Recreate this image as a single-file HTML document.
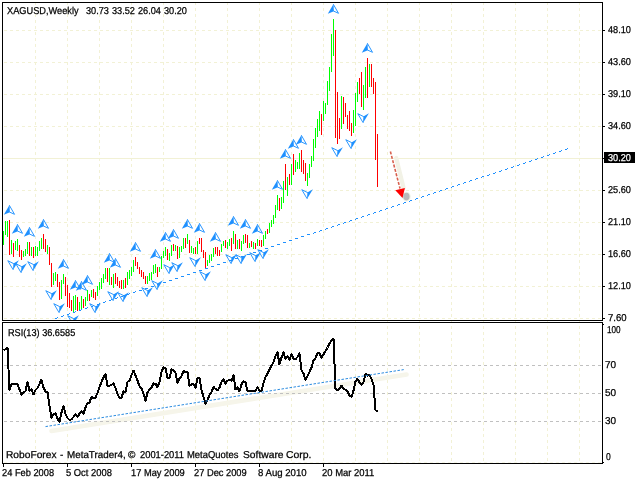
<!DOCTYPE html><html><head><meta charset="utf-8"><title>XAGUSD,Weekly</title><style>html,body{margin:0;padding:0;background:#fff;width:640px;height:480px;overflow:hidden}svg{display:block}text{font-family:'Liberation Sans', Arial, sans-serif;font-size:10.0px;fill:#000;stroke:#000;stroke-width:0.25px;text-rendering:geometricPrecision}</style></head><body>
<svg width="640" height="480" viewBox="0 0 640 480">
<rect width="640" height="480" fill="#fff"/>
<defs><clipPath id="cm"><rect x="3" y="3" width="599" height="317"/></clipPath><clipPath id="cr"><rect x="3" y="323" width="599" height="140"/></clipPath></defs>
<g shape-rendering="crispEdges" fill="none"><line x1="35.5" y1="2" x2="35.5" y2="320" stroke="#F2F1D5" stroke-dasharray="3 3"/><line x1="35.5" y1="320" x2="35.5" y2="463" stroke="#F2F1D5" stroke-dasharray="3 3"/><line x1="67.5" y1="2" x2="67.5" y2="320" stroke="#F2F1D5" stroke-dasharray="3 3"/><line x1="67.5" y1="320" x2="67.5" y2="463" stroke="#F2F1D5" stroke-dasharray="3 3"/><line x1="99.5" y1="2" x2="99.5" y2="320" stroke="#F2F1D5" stroke-dasharray="3 3"/><line x1="99.5" y1="320" x2="99.5" y2="463" stroke="#F2F1D5" stroke-dasharray="3 3"/><line x1="131.5" y1="2" x2="131.5" y2="320" stroke="#F2F1D5" stroke-dasharray="3 3"/><line x1="131.5" y1="320" x2="131.5" y2="463" stroke="#F2F1D5" stroke-dasharray="3 3"/><line x1="163.5" y1="2" x2="163.5" y2="320" stroke="#F2F1D5" stroke-dasharray="3 3"/><line x1="163.5" y1="320" x2="163.5" y2="463" stroke="#F2F1D5" stroke-dasharray="3 3"/><line x1="195.5" y1="2" x2="195.5" y2="320" stroke="#F2F1D5" stroke-dasharray="3 3"/><line x1="195.5" y1="320" x2="195.5" y2="463" stroke="#F2F1D5" stroke-dasharray="3 3"/><line x1="227.5" y1="2" x2="227.5" y2="320" stroke="#F2F1D5" stroke-dasharray="3 3"/><line x1="227.5" y1="320" x2="227.5" y2="463" stroke="#F2F1D5" stroke-dasharray="3 3"/><line x1="259.5" y1="2" x2="259.5" y2="320" stroke="#F2F1D5" stroke-dasharray="3 3"/><line x1="259.5" y1="320" x2="259.5" y2="463" stroke="#F2F1D5" stroke-dasharray="3 3"/><line x1="291.5" y1="2" x2="291.5" y2="320" stroke="#F2F1D5" stroke-dasharray="3 3"/><line x1="291.5" y1="320" x2="291.5" y2="463" stroke="#F2F1D5" stroke-dasharray="3 3"/><line x1="323.5" y1="2" x2="323.5" y2="320" stroke="#F2F1D5" stroke-dasharray="3 3"/><line x1="323.5" y1="320" x2="323.5" y2="463" stroke="#F2F1D5" stroke-dasharray="3 3"/><line x1="355.5" y1="2" x2="355.5" y2="320" stroke="#F2F1D5" stroke-dasharray="3 3"/><line x1="355.5" y1="320" x2="355.5" y2="463" stroke="#F2F1D5" stroke-dasharray="3 3"/><line x1="387.5" y1="2" x2="387.5" y2="320" stroke="#F2F1D5" stroke-dasharray="3 3"/><line x1="387.5" y1="320" x2="387.5" y2="463" stroke="#F2F1D5" stroke-dasharray="3 3"/><line x1="419.5" y1="2" x2="419.5" y2="320" stroke="#F2F1D5" stroke-dasharray="3 3"/><line x1="419.5" y1="320" x2="419.5" y2="463" stroke="#F2F1D5" stroke-dasharray="3 3"/><line x1="451.5" y1="2" x2="451.5" y2="320" stroke="#F2F1D5" stroke-dasharray="3 3"/><line x1="451.5" y1="320" x2="451.5" y2="463" stroke="#F2F1D5" stroke-dasharray="3 3"/><line x1="483.5" y1="2" x2="483.5" y2="320" stroke="#F2F1D5" stroke-dasharray="3 3"/><line x1="483.5" y1="320" x2="483.5" y2="463" stroke="#F2F1D5" stroke-dasharray="3 3"/><line x1="515.5" y1="2" x2="515.5" y2="320" stroke="#F2F1D5" stroke-dasharray="3 3"/><line x1="515.5" y1="320" x2="515.5" y2="463" stroke="#F2F1D5" stroke-dasharray="3 3"/><line x1="547.5" y1="2" x2="547.5" y2="320" stroke="#F2F1D5" stroke-dasharray="3 3"/><line x1="547.5" y1="320" x2="547.5" y2="463" stroke="#F2F1D5" stroke-dasharray="3 3"/><line x1="579.5" y1="2" x2="579.5" y2="320" stroke="#F2F1D5" stroke-dasharray="3 3"/><line x1="579.5" y1="320" x2="579.5" y2="463" stroke="#F2F1D5" stroke-dasharray="3 3"/><line x1="4" y1="30.5" x2="602" y2="30.5" stroke="#F2F1D5" stroke-dasharray="3 3"/><line x1="4" y1="62.5" x2="602" y2="62.5" stroke="#F2F1D5" stroke-dasharray="3 3"/><line x1="4" y1="94.5" x2="602" y2="94.5" stroke="#F2F1D5" stroke-dasharray="3 3"/><line x1="4" y1="126.5" x2="602" y2="126.5" stroke="#F2F1D5" stroke-dasharray="3 3"/><line x1="4" y1="158.5" x2="602" y2="158.5" stroke="#F2F1D5" stroke-dasharray="3 3"/><line x1="4" y1="190.5" x2="602" y2="190.5" stroke="#F2F1D5" stroke-dasharray="3 3"/><line x1="4" y1="222.5" x2="602" y2="222.5" stroke="#F2F1D5" stroke-dasharray="3 3"/><line x1="4" y1="254.5" x2="602" y2="254.5" stroke="#F2F1D5" stroke-dasharray="3 3"/><line x1="4" y1="286.5" x2="602" y2="286.5" stroke="#F2F1D5" stroke-dasharray="3 3"/><line x1="4" y1="318.5" x2="602" y2="318.5" stroke="#F2F1D5" stroke-dasharray="3 3"/><line x1="4" y1="462.5" x2="602" y2="462.5" stroke="#F2F1D5" stroke-dasharray="3 3" opacity="0.6"/><line x1="3" y1="158.5" x2="602" y2="158.5" stroke="#F2F1D5"/></g>
<line x1="51.5" y1="430.95" x2="406.5" y2="374.46" stroke="#F6F5EA" stroke-width="4.6" stroke-linecap="round"/>
<g shape-rendering="crispEdges" fill="none"><line x1="4" y1="365.5" x2="602" y2="365.5" stroke="#C0C0C0" stroke-dasharray="3 3"/><line x1="4" y1="393.5" x2="602" y2="393.5" stroke="#C0C0C0" stroke-dasharray="3 3"/><line x1="4" y1="421.5" x2="602" y2="421.5" stroke="#C0C0C0" stroke-dasharray="3 3"/></g>
<g clip-path="url(#cm)">
<line x1="396.2" y1="158" x2="403.6" y2="188" stroke="#F2F2E6" stroke-width="4.2" stroke-linecap="round"/>
<ellipse cx="406.4" cy="196.6" rx="4.3" ry="4.9" fill="#EEF3E6"/>
<ellipse cx="406.4" cy="196.6" rx="3.2" ry="3.8" fill="#B9B9B9"/>
<line x1="390.4" y1="151.5" x2="400" y2="188.5" stroke="#D8604E" stroke-width="1.6" stroke-dasharray="3 1.5"/>
<polygon points="395.3,190.3 404.9,188 402.5,197.9" fill="#FF0000"/>
<g shape-rendering="crispEdges"><rect x="3" y="231" width="1" height="14" fill="#00FF00"/><rect x="5" y="221" width="1" height="14" fill="#00FF00"/><rect x="7" y="221" width="1" height="16" fill="#00FF00"/><rect x="9" y="220" width="1" height="35" fill="#FF0000"/><rect x="11" y="240" width="1" height="14" fill="#00FF00"/><rect x="13" y="243" width="1" height="14" fill="#FF0000"/><rect x="15" y="241" width="1" height="9" fill="#00FF00"/><rect x="17" y="239" width="1" height="12" fill="#00FF00"/><rect x="19" y="245" width="1" height="12" fill="#FF0000"/><rect x="21" y="250" width="1" height="10" fill="#FF0000"/><rect x="23" y="251" width="1" height="6" fill="#00FF00"/><rect x="25" y="249" width="1" height="7" fill="#00FF00"/><rect x="27" y="242" width="1" height="12" fill="#00FF00"/><rect x="29" y="242" width="1" height="14" fill="#FF0000"/><rect x="31" y="247" width="1" height="9" fill="#00FF00"/><rect x="33" y="247" width="1" height="11" fill="#FF0000"/><rect x="35" y="246" width="1" height="10" fill="#00FF00"/><rect x="37" y="247" width="1" height="9" fill="#00FF00"/><rect x="39" y="241" width="1" height="10" fill="#00FF00"/><rect x="41" y="238" width="1" height="11" fill="#00FF00"/><rect x="43" y="234" width="1" height="15" fill="#FF0000"/><rect x="45" y="239" width="1" height="13" fill="#FF0000"/><rect x="47" y="245" width="1" height="9" fill="#00FF00"/><rect x="49" y="247" width="1" height="18" fill="#FF0000"/><rect x="51" y="263" width="1" height="24" fill="#FF0000"/><rect x="53" y="273" width="1" height="12" fill="#00FF00"/><rect x="55" y="272" width="1" height="9" fill="#00FF00"/><rect x="57" y="274" width="1" height="13" fill="#FF0000"/><rect x="59" y="282" width="1" height="18" fill="#FF0000"/><rect x="61" y="280" width="1" height="19" fill="#00FF00"/><rect x="63" y="274" width="1" height="10" fill="#00FF00"/><rect x="65" y="277" width="1" height="19" fill="#FF0000"/><rect x="67" y="285" width="1" height="22" fill="#FF0000"/><rect x="69" y="293" width="1" height="15" fill="#FF0000"/><rect x="71" y="300" width="1" height="11" fill="#FF0000"/><rect x="73" y="296" width="1" height="16" fill="#00FF00"/><rect x="75" y="295" width="1" height="15" fill="#00FF00"/><rect x="77" y="297" width="1" height="14" fill="#FF0000"/><rect x="79" y="302" width="1" height="8" fill="#00FF00"/><rect x="81" y="296" width="1" height="14" fill="#00FF00"/><rect x="83" y="299" width="1" height="9" fill="#FF0000"/><rect x="85" y="297" width="1" height="9" fill="#00FF00"/><rect x="87" y="290" width="1" height="11" fill="#00FF00"/><rect x="89" y="294" width="1" height="7" fill="#FF0000"/><rect x="91" y="290" width="1" height="7" fill="#00FF00"/><rect x="93" y="289" width="1" height="9" fill="#FF0000"/><rect x="95" y="292" width="1" height="8" fill="#FF0000"/><rect x="97" y="286" width="1" height="10" fill="#00FF00"/><rect x="99" y="282" width="1" height="8" fill="#00FF00"/><rect x="101" y="278" width="1" height="11" fill="#00FF00"/><rect x="103" y="274" width="1" height="9" fill="#00FF00"/><rect x="105" y="268" width="1" height="11" fill="#00FF00"/><rect x="107" y="268" width="1" height="14" fill="#FF0000"/><rect x="109" y="268" width="1" height="17" fill="#00FF00"/><rect x="111" y="277" width="1" height="8" fill="#FF0000"/><rect x="113" y="274" width="1" height="14" fill="#00FF00"/><rect x="115" y="273" width="1" height="11" fill="#FF0000"/><rect x="117" y="277" width="1" height="9" fill="#FF0000"/><rect x="119" y="281" width="1" height="7" fill="#FF0000"/><rect x="121" y="280" width="1" height="9" fill="#FF0000"/><rect x="123" y="280" width="1" height="9" fill="#00FF00"/><rect x="125" y="278" width="1" height="10" fill="#FF0000"/><rect x="127" y="272" width="1" height="13" fill="#00FF00"/><rect x="129" y="270" width="1" height="9" fill="#00FF00"/><rect x="131" y="267" width="1" height="9" fill="#00FF00"/><rect x="133" y="260" width="1" height="12" fill="#00FF00"/><rect x="135" y="257" width="1" height="9" fill="#FF0000"/><rect x="137" y="262" width="1" height="7" fill="#FF0000"/><rect x="139" y="267" width="1" height="7" fill="#FF0000"/><rect x="141" y="270" width="1" height="7" fill="#FF0000"/><rect x="143" y="272" width="1" height="7" fill="#FF0000"/><rect x="145" y="276" width="1" height="8" fill="#FF0000"/><rect x="147" y="276" width="1" height="8" fill="#00FF00"/><rect x="149" y="273" width="1" height="8" fill="#00FF00"/><rect x="151" y="272" width="1" height="8" fill="#00FF00"/><rect x="153" y="265" width="1" height="9" fill="#00FF00"/><rect x="155" y="264" width="1" height="9" fill="#00FF00"/><rect x="157" y="267" width="1" height="10" fill="#FF0000"/><rect x="159" y="267" width="1" height="5" fill="#00FF00"/><rect x="161" y="256" width="1" height="13" fill="#00FF00"/><rect x="163" y="251" width="1" height="7" fill="#00FF00"/><rect x="165" y="247" width="1" height="9" fill="#00FF00"/><rect x="167" y="249" width="1" height="11" fill="#FF0000"/><rect x="169" y="253" width="1" height="8" fill="#00FF00"/><rect x="171" y="245" width="1" height="11" fill="#00FF00"/><rect x="173" y="244" width="1" height="7" fill="#FF0000"/><rect x="175" y="245" width="1" height="6" fill="#00FF00"/><rect x="177" y="246" width="1" height="13" fill="#FF0000"/><rect x="179" y="247" width="1" height="11" fill="#00FF00"/><rect x="181" y="246" width="1" height="6" fill="#00FF00"/><rect x="183" y="238" width="1" height="11" fill="#00FF00"/><rect x="185" y="238" width="1" height="10" fill="#FF0000"/><rect x="187" y="234" width="1" height="10" fill="#00FF00"/><rect x="189" y="240" width="1" height="13" fill="#FF0000"/><rect x="191" y="246" width="1" height="7" fill="#00FF00"/><rect x="193" y="248" width="1" height="6" fill="#00FF00"/><rect x="195" y="247" width="1" height="7" fill="#FF0000"/><rect x="197" y="241" width="1" height="13" fill="#00FF00"/><rect x="199" y="238" width="1" height="6" fill="#FF0000"/><rect x="201" y="238" width="1" height="14" fill="#FF0000"/><rect x="203" y="250" width="1" height="8" fill="#FF0000"/><rect x="205" y="252" width="1" height="16" fill="#FF0000"/><rect x="207" y="260" width="1" height="6" fill="#00FF00"/><rect x="209" y="255" width="1" height="8" fill="#00FF00"/><rect x="211" y="254" width="1" height="7" fill="#00FF00"/><rect x="213" y="248" width="1" height="9" fill="#00FF00"/><rect x="215" y="247" width="1" height="7" fill="#FF0000"/><rect x="217" y="247" width="1" height="9" fill="#FF0000"/><rect x="219" y="250" width="1" height="6" fill="#FF0000"/><rect x="221" y="244" width="1" height="8" fill="#00FF00"/><rect x="223" y="241" width="1" height="5" fill="#00FF00"/><rect x="225" y="240" width="1" height="8" fill="#FF0000"/><rect x="227" y="242" width="1" height="7" fill="#00FF00"/><rect x="229" y="239" width="1" height="7" fill="#00FF00"/><rect x="231" y="238" width="1" height="13" fill="#FF0000"/><rect x="233" y="231" width="1" height="13" fill="#00FF00"/><rect x="235" y="234" width="1" height="15" fill="#FF0000"/><rect x="237" y="240" width="1" height="9" fill="#00FF00"/><rect x="239" y="239" width="1" height="10" fill="#FF0000"/><rect x="241" y="241" width="1" height="10" fill="#00FF00"/><rect x="243" y="235" width="1" height="9" fill="#00FF00"/><rect x="245" y="234" width="1" height="9" fill="#FF0000"/><rect x="247" y="235" width="1" height="13" fill="#FF0000"/><rect x="249" y="243" width="1" height="5" fill="#00FF00"/><rect x="251" y="241" width="1" height="6" fill="#FF0000"/><rect x="253" y="242" width="1" height="7" fill="#00FF00"/><rect x="255" y="243" width="1" height="6" fill="#FF0000"/><rect x="257" y="239" width="1" height="7" fill="#00FF00"/><rect x="259" y="240" width="1" height="6" fill="#FF0000"/><rect x="261" y="240" width="1" height="7" fill="#FF0000"/><rect x="263" y="235" width="1" height="11" fill="#00FF00"/><rect x="265" y="231" width="1" height="8" fill="#00FF00"/><rect x="267" y="229" width="1" height="5" fill="#FF0000"/><rect x="269" y="223" width="1" height="10" fill="#00FF00"/><rect x="271" y="220" width="1" height="7" fill="#00FF00"/><rect x="273" y="215" width="1" height="9" fill="#00FF00"/><rect x="275" y="205" width="1" height="13" fill="#00FF00"/><rect x="277" y="195" width="1" height="15" fill="#00FF00"/><rect x="279" y="198" width="1" height="13" fill="#FF0000"/><rect x="281" y="197" width="1" height="12" fill="#00FF00"/><rect x="283" y="181" width="1" height="22" fill="#00FF00"/><rect x="285" y="164" width="1" height="26" fill="#FF0000"/><rect x="287" y="177" width="1" height="19" fill="#00FF00"/><rect x="289" y="174" width="1" height="11" fill="#FF0000"/><rect x="291" y="164" width="1" height="21" fill="#00FF00"/><rect x="293" y="154" width="1" height="21" fill="#FF0000"/><rect x="295" y="160" width="1" height="12" fill="#00FF00"/><rect x="297" y="162" width="1" height="7" fill="#00FF00"/><rect x="299" y="153" width="1" height="16" fill="#00FF00"/><rect x="301" y="150" width="1" height="22" fill="#FF0000"/><rect x="303" y="160" width="1" height="14" fill="#FF0000"/><rect x="305" y="163" width="1" height="18" fill="#FF0000"/><rect x="307" y="173" width="1" height="13" fill="#00FF00"/><rect x="309" y="164" width="1" height="14" fill="#00FF00"/><rect x="311" y="156" width="1" height="11" fill="#00FF00"/><rect x="313" y="139" width="1" height="22" fill="#00FF00"/><rect x="315" y="128" width="1" height="20" fill="#00FF00"/><rect x="317" y="119" width="1" height="18" fill="#00FF00"/><rect x="319" y="111" width="1" height="20" fill="#00FF00"/><rect x="321" y="114" width="1" height="21" fill="#FF0000"/><rect x="323" y="101" width="1" height="20" fill="#00FF00"/><rect x="325" y="103" width="1" height="11" fill="#00FF00"/><rect x="327" y="81" width="1" height="24" fill="#00FF00"/><rect x="329" y="67" width="1" height="24" fill="#00FF00"/><rect x="331" y="34" width="1" height="38" fill="#00FF00"/><rect x="333" y="19" width="1" height="37" fill="#00FF00"/><rect x="335" y="30" width="1" height="108" fill="#FF0000"/><rect x="337" y="92" width="1" height="52" fill="#FF0000"/><rect x="339" y="118" width="1" height="21" fill="#FF0000"/><rect x="341" y="96" width="1" height="33" fill="#00FF00"/><rect x="343" y="97" width="1" height="27" fill="#FF0000"/><rect x="345" y="103" width="1" height="14" fill="#FF0000"/><rect x="347" y="115" width="1" height="14" fill="#FF0000"/><rect x="349" y="111" width="1" height="20" fill="#FF0000"/><rect x="351" y="123" width="1" height="13" fill="#FF0000"/><rect x="353" y="110" width="1" height="23" fill="#00FF00"/><rect x="355" y="93" width="1" height="33" fill="#00FF00"/><rect x="357" y="82" width="1" height="20" fill="#00FF00"/><rect x="359" y="78" width="1" height="16" fill="#FF0000"/><rect x="361" y="72" width="1" height="35" fill="#FF0000"/><rect x="363" y="85" width="1" height="25" fill="#00FF00"/><rect x="365" y="67" width="1" height="31" fill="#00FF00"/><rect x="367" y="58" width="1" height="40" fill="#FF0000"/><rect x="369" y="64" width="1" height="23" fill="#00FF00"/><rect x="371" y="64" width="1" height="23" fill="#FF0000"/><rect x="373" y="78" width="1" height="16" fill="#FF0000"/><rect x="375" y="82" width="1" height="78" fill="#FF0000"/><rect x="377" y="134" width="1" height="53" fill="#FF0000"/></g>
<g><polygon points="9.50,205.10 3.80,214.70 9.90,212.20" fill="#1E90FF"/><polyline points="9.50,205.60 14.50,214.30 9.90,212.20" fill="none" stroke="#1E90FF" stroke-width="0.95" stroke-linejoin="round" stroke-linecap="round"/><polygon points="17.50,224.10 11.80,233.70 17.90,231.20" fill="#1E90FF"/><polyline points="17.50,224.60 22.50,233.30 17.90,231.20" fill="none" stroke="#1E90FF" stroke-width="0.95" stroke-linejoin="round" stroke-linecap="round"/><polygon points="29.50,227.10 23.80,236.70 29.90,234.20" fill="#1E90FF"/><polyline points="29.50,227.60 34.50,236.30 29.90,234.20" fill="none" stroke="#1E90FF" stroke-width="0.95" stroke-linejoin="round" stroke-linecap="round"/><polygon points="43.50,219.10 37.80,228.70 43.90,226.20" fill="#1E90FF"/><polyline points="43.50,219.60 48.50,228.30 43.90,226.20" fill="none" stroke="#1E90FF" stroke-width="0.95" stroke-linejoin="round" stroke-linecap="round"/><polygon points="63.50,259.10 57.80,268.70 63.90,266.20" fill="#1E90FF"/><polyline points="63.50,259.60 68.50,268.30 63.90,266.20" fill="none" stroke="#1E90FF" stroke-width="0.95" stroke-linejoin="round" stroke-linecap="round"/><polygon points="75.50,280.10 69.80,289.70 75.90,287.20" fill="#1E90FF"/><polyline points="75.50,280.60 80.50,289.30 75.90,287.20" fill="none" stroke="#1E90FF" stroke-width="0.95" stroke-linejoin="round" stroke-linecap="round"/><polygon points="81.50,281.10 75.80,290.70 81.90,288.20" fill="#1E90FF"/><polyline points="81.50,281.60 86.50,290.30 81.90,288.20" fill="none" stroke="#1E90FF" stroke-width="0.95" stroke-linejoin="round" stroke-linecap="round"/><polygon points="87.50,275.10 81.80,284.70 87.90,282.20" fill="#1E90FF"/><polyline points="87.50,275.60 92.50,284.30 87.90,282.20" fill="none" stroke="#1E90FF" stroke-width="0.95" stroke-linejoin="round" stroke-linecap="round"/><polygon points="109.50,253.10 103.80,262.70 109.90,260.20" fill="#1E90FF"/><polyline points="109.50,253.60 114.50,262.30 109.90,260.20" fill="none" stroke="#1E90FF" stroke-width="0.95" stroke-linejoin="round" stroke-linecap="round"/><polygon points="115.50,258.10 109.80,267.70 115.90,265.20" fill="#1E90FF"/><polyline points="115.50,258.60 120.50,267.30 115.90,265.20" fill="none" stroke="#1E90FF" stroke-width="0.95" stroke-linejoin="round" stroke-linecap="round"/><polygon points="135.50,242.10 129.80,251.70 135.90,249.20" fill="#1E90FF"/><polyline points="135.50,242.60 140.50,251.30 135.90,249.20" fill="none" stroke="#1E90FF" stroke-width="0.95" stroke-linejoin="round" stroke-linecap="round"/><polygon points="155.50,249.10 149.80,258.70 155.90,256.20" fill="#1E90FF"/><polyline points="155.50,249.60 160.50,258.30 155.90,256.20" fill="none" stroke="#1E90FF" stroke-width="0.95" stroke-linejoin="round" stroke-linecap="round"/><polygon points="165.50,232.10 159.80,241.70 165.90,239.20" fill="#1E90FF"/><polyline points="165.50,232.60 170.50,241.30 165.90,239.20" fill="none" stroke="#1E90FF" stroke-width="0.95" stroke-linejoin="round" stroke-linecap="round"/><polygon points="173.50,229.10 167.80,238.70 173.90,236.20" fill="#1E90FF"/><polyline points="173.50,229.60 178.50,238.30 173.90,236.20" fill="none" stroke="#1E90FF" stroke-width="0.95" stroke-linejoin="round" stroke-linecap="round"/><polygon points="187.50,219.10 181.80,228.70 187.90,226.20" fill="#1E90FF"/><polyline points="187.50,219.60 192.50,228.30 187.90,226.20" fill="none" stroke="#1E90FF" stroke-width="0.95" stroke-linejoin="round" stroke-linecap="round"/><polygon points="199.50,223.10 193.80,232.70 199.90,230.20" fill="#1E90FF"/><polyline points="199.50,223.60 204.50,232.30 199.90,230.20" fill="none" stroke="#1E90FF" stroke-width="0.95" stroke-linejoin="round" stroke-linecap="round"/><polygon points="215.50,232.10 209.80,241.70 215.90,239.20" fill="#1E90FF"/><polyline points="215.50,232.60 220.50,241.30 215.90,239.20" fill="none" stroke="#1E90FF" stroke-width="0.95" stroke-linejoin="round" stroke-linecap="round"/><polygon points="233.50,216.10 227.80,225.70 233.90,223.20" fill="#1E90FF"/><polyline points="233.50,216.60 238.50,225.30 233.90,223.20" fill="none" stroke="#1E90FF" stroke-width="0.95" stroke-linejoin="round" stroke-linecap="round"/><polygon points="245.50,219.10 239.80,228.70 245.90,226.20" fill="#1E90FF"/><polyline points="245.50,219.60 250.50,228.30 245.90,226.20" fill="none" stroke="#1E90FF" stroke-width="0.95" stroke-linejoin="round" stroke-linecap="round"/><polygon points="257.50,224.10 251.80,233.70 257.90,231.20" fill="#1E90FF"/><polyline points="257.50,224.60 262.50,233.30 257.90,231.20" fill="none" stroke="#1E90FF" stroke-width="0.95" stroke-linejoin="round" stroke-linecap="round"/><polygon points="277.50,180.10 271.80,189.70 277.90,187.20" fill="#1E90FF"/><polyline points="277.50,180.60 282.50,189.30 277.90,187.20" fill="none" stroke="#1E90FF" stroke-width="0.95" stroke-linejoin="round" stroke-linecap="round"/><polygon points="285.50,149.10 279.80,158.70 285.90,156.20" fill="#1E90FF"/><polyline points="285.50,149.60 290.50,158.30 285.90,156.20" fill="none" stroke="#1E90FF" stroke-width="0.95" stroke-linejoin="round" stroke-linecap="round"/><polygon points="293.50,139.10 287.80,148.70 293.90,146.20" fill="#1E90FF"/><polyline points="293.50,139.60 298.50,148.30 293.90,146.20" fill="none" stroke="#1E90FF" stroke-width="0.95" stroke-linejoin="round" stroke-linecap="round"/><polygon points="301.50,135.10 295.80,144.70 301.90,142.20" fill="#1E90FF"/><polyline points="301.50,135.60 306.50,144.30 301.90,142.20" fill="none" stroke="#1E90FF" stroke-width="0.95" stroke-linejoin="round" stroke-linecap="round"/><polygon points="333.50,4.10 327.80,13.70 333.90,11.20" fill="#1E90FF"/><polyline points="333.50,4.60 338.50,13.30 333.90,11.20" fill="none" stroke="#1E90FF" stroke-width="0.95" stroke-linejoin="round" stroke-linecap="round"/><polygon points="367.50,43.10 361.80,52.70 367.90,50.20" fill="#1E90FF"/><polyline points="367.50,43.60 372.50,52.30 367.90,50.20" fill="none" stroke="#1E90FF" stroke-width="0.95" stroke-linejoin="round" stroke-linecap="round"/><polygon points="13.00,270.00 18.90,260.20 13.40,263.50" fill="#1E90FF"/><polyline points="13.00,269.50 7.80,260.70 13.40,263.50" fill="none" stroke="#1E90FF" stroke-width="0.95" stroke-linejoin="round" stroke-linecap="round"/><polygon points="21.00,273.00 26.90,263.20 21.40,266.50" fill="#1E90FF"/><polyline points="21.00,272.50 15.80,263.70 21.40,266.50" fill="none" stroke="#1E90FF" stroke-width="0.95" stroke-linejoin="round" stroke-linecap="round"/><polygon points="33.00,271.00 38.90,261.20 33.40,264.50" fill="#1E90FF"/><polyline points="33.00,270.50 27.80,261.70 33.40,264.50" fill="none" stroke="#1E90FF" stroke-width="0.95" stroke-linejoin="round" stroke-linecap="round"/><polygon points="51.00,300.00 56.90,290.20 51.40,293.50" fill="#1E90FF"/><polyline points="51.00,299.50 45.80,290.70 51.40,293.50" fill="none" stroke="#1E90FF" stroke-width="0.95" stroke-linejoin="round" stroke-linecap="round"/><polygon points="59.00,313.00 64.90,303.20 59.40,306.50" fill="#1E90FF"/><polyline points="59.00,312.50 53.80,303.70 59.40,306.50" fill="none" stroke="#1E90FF" stroke-width="0.95" stroke-linejoin="round" stroke-linecap="round"/><polygon points="73.00,325.00 78.90,315.20 73.40,318.50" fill="#1E90FF"/><polyline points="73.00,324.50 67.80,315.70 73.40,318.50" fill="none" stroke="#1E90FF" stroke-width="0.95" stroke-linejoin="round" stroke-linecap="round"/><polygon points="95.00,313.00 100.90,303.20 95.40,306.50" fill="#1E90FF"/><polyline points="95.00,312.50 89.80,303.70 95.40,306.50" fill="none" stroke="#1E90FF" stroke-width="0.95" stroke-linejoin="round" stroke-linecap="round"/><polygon points="113.00,301.00 118.90,291.20 113.40,294.50" fill="#1E90FF"/><polyline points="113.00,300.50 107.80,291.70 113.40,294.50" fill="none" stroke="#1E90FF" stroke-width="0.95" stroke-linejoin="round" stroke-linecap="round"/><polygon points="123.00,302.00 128.90,292.20 123.40,295.50" fill="#1E90FF"/><polyline points="123.00,301.50 117.80,292.70 123.40,295.50" fill="none" stroke="#1E90FF" stroke-width="0.95" stroke-linejoin="round" stroke-linecap="round"/><polygon points="147.00,297.00 152.90,287.20 147.40,290.50" fill="#1E90FF"/><polyline points="147.00,296.50 141.80,287.70 147.40,290.50" fill="none" stroke="#1E90FF" stroke-width="0.95" stroke-linejoin="round" stroke-linecap="round"/><polygon points="157.00,290.00 162.90,280.20 157.40,283.50" fill="#1E90FF"/><polyline points="157.00,289.50 151.80,280.70 157.40,283.50" fill="none" stroke="#1E90FF" stroke-width="0.95" stroke-linejoin="round" stroke-linecap="round"/><polygon points="169.00,274.00 174.90,264.20 169.40,267.50" fill="#1E90FF"/><polyline points="169.00,273.50 163.80,264.70 169.40,267.50" fill="none" stroke="#1E90FF" stroke-width="0.95" stroke-linejoin="round" stroke-linecap="round"/><polygon points="177.00,272.00 182.90,262.20 177.40,265.50" fill="#1E90FF"/><polyline points="177.00,271.50 171.80,262.70 177.40,265.50" fill="none" stroke="#1E90FF" stroke-width="0.95" stroke-linejoin="round" stroke-linecap="round"/><polygon points="195.00,267.00 200.90,257.20 195.40,260.50" fill="#1E90FF"/><polyline points="195.00,266.50 189.80,257.70 195.40,260.50" fill="none" stroke="#1E90FF" stroke-width="0.95" stroke-linejoin="round" stroke-linecap="round"/><polygon points="205.00,281.00 210.90,271.20 205.40,274.50" fill="#1E90FF"/><polyline points="205.00,280.50 199.80,271.70 205.40,274.50" fill="none" stroke="#1E90FF" stroke-width="0.95" stroke-linejoin="round" stroke-linecap="round"/><polygon points="231.00,264.00 236.90,254.20 231.40,257.50" fill="#1E90FF"/><polyline points="231.00,263.50 225.80,254.70 231.40,257.50" fill="none" stroke="#1E90FF" stroke-width="0.95" stroke-linejoin="round" stroke-linecap="round"/><polygon points="241.00,264.00 246.90,254.20 241.40,257.50" fill="#1E90FF"/><polyline points="241.00,263.50 235.80,254.70 241.40,257.50" fill="none" stroke="#1E90FF" stroke-width="0.95" stroke-linejoin="round" stroke-linecap="round"/><polygon points="255.00,262.00 260.90,252.20 255.40,255.50" fill="#1E90FF"/><polyline points="255.00,261.50 249.80,252.70 255.40,255.50" fill="none" stroke="#1E90FF" stroke-width="0.95" stroke-linejoin="round" stroke-linecap="round"/><polygon points="263.00,259.00 268.90,249.20 263.40,252.50" fill="#1E90FF"/><polyline points="263.00,258.50 257.80,249.70 263.40,252.50" fill="none" stroke="#1E90FF" stroke-width="0.95" stroke-linejoin="round" stroke-linecap="round"/><polygon points="307.00,199.00 312.90,189.20 307.40,192.50" fill="#1E90FF"/><polyline points="307.00,198.50 301.80,189.70 307.40,192.50" fill="none" stroke="#1E90FF" stroke-width="0.95" stroke-linejoin="round" stroke-linecap="round"/><polygon points="337.00,157.00 342.90,147.20 337.40,150.50" fill="#1E90FF"/><polyline points="337.00,156.50 331.80,147.70 337.40,150.50" fill="none" stroke="#1E90FF" stroke-width="0.95" stroke-linejoin="round" stroke-linecap="round"/><polygon points="351.00,149.00 356.90,139.20 351.40,142.50" fill="#1E90FF"/><polyline points="351.00,148.50 345.80,139.70 351.40,142.50" fill="none" stroke="#1E90FF" stroke-width="0.95" stroke-linejoin="round" stroke-linecap="round"/><polygon points="363.00,123.00 368.90,113.20 363.40,116.50" fill="#1E90FF"/><polyline points="363.00,122.50 357.80,113.70 363.40,116.50" fill="none" stroke="#1E90FF" stroke-width="0.95" stroke-linejoin="round" stroke-linecap="round"/></g>
<g fill="#1E90FF" shape-rendering="crispEdges"><rect x="55" y="318" width="2" height="1"/><rect x="57" y="317" width="1" height="1"/><rect x="61" y="316" width="2" height="1"/><rect x="63" y="315" width="1" height="1"/><rect x="67" y="314" width="2" height="1"/><rect x="69" y="313" width="1" height="1"/><rect x="73" y="312" width="2" height="1"/><rect x="75" y="311" width="1" height="1"/><rect x="79" y="310" width="2" height="1"/><rect x="81" y="309" width="1" height="1"/><rect x="85" y="308" width="2" height="1"/><rect x="87" y="307" width="1" height="1"/><rect x="91" y="306" width="2" height="1"/><rect x="93" y="305" width="1" height="1"/><rect x="97" y="304" width="2" height="1"/><rect x="99" y="303" width="1" height="1"/><rect x="103" y="302" width="2" height="1"/><rect x="105" y="301" width="1" height="1"/><rect x="109" y="300" width="2" height="1"/><rect x="111" y="299" width="1" height="1"/><rect x="115" y="298" width="2" height="1"/><rect x="117" y="297" width="1" height="1"/><rect x="121" y="296" width="2" height="1"/><rect x="123" y="295" width="1" height="1"/><rect x="127" y="294" width="2" height="1"/><rect x="129" y="293" width="1" height="1"/><rect x="133" y="292" width="2" height="1"/><rect x="135" y="291" width="1" height="1"/><rect x="139" y="290" width="3" height="1"/><rect x="145" y="288" width="3" height="1"/><rect x="151" y="286" width="3" height="1"/><rect x="157" y="284" width="3" height="1"/><rect x="163" y="282" width="3" height="1"/><rect x="169" y="280" width="3" height="1"/><rect x="175" y="278" width="3" height="1"/><rect x="181" y="276" width="3" height="1"/><rect x="187" y="274" width="3" height="1"/><rect x="193" y="272" width="3" height="1"/><rect x="199" y="270" width="3" height="1"/><rect x="205" y="268" width="3" height="1"/><rect x="211" y="266" width="3" height="1"/><rect x="217" y="264" width="3" height="1"/><rect x="223" y="262" width="3" height="1"/><rect x="229" y="260" width="3" height="1"/><rect x="235" y="258" width="3" height="1"/><rect x="241" y="256" width="3" height="1"/><rect x="247" y="254" width="3" height="1"/><rect x="253" y="252" width="3" height="1"/><rect x="259" y="250" width="3" height="1"/><rect x="265" y="248" width="3" height="1"/><rect x="271" y="246" width="3" height="1"/><rect x="277" y="244" width="3" height="1"/><rect x="283" y="242" width="3" height="1"/><rect x="289" y="240" width="3" height="1"/><rect x="295" y="238" width="3" height="1"/><rect x="301" y="236" width="3" height="1"/><rect x="307" y="234" width="3" height="1"/><rect x="313" y="233" width="1" height="1"/><rect x="314" y="232" width="2" height="1"/><rect x="319" y="231" width="1" height="1"/><rect x="320" y="230" width="2" height="1"/><rect x="325" y="229" width="1" height="1"/><rect x="326" y="228" width="2" height="1"/><rect x="331" y="227" width="1" height="1"/><rect x="332" y="226" width="2" height="1"/><rect x="337" y="225" width="1" height="1"/><rect x="338" y="224" width="2" height="1"/><rect x="343" y="223" width="1" height="1"/><rect x="344" y="222" width="2" height="1"/><rect x="349" y="221" width="1" height="1"/><rect x="350" y="220" width="2" height="1"/><rect x="355" y="219" width="1" height="1"/><rect x="356" y="218" width="2" height="1"/><rect x="361" y="217" width="1" height="1"/><rect x="362" y="216" width="2" height="1"/><rect x="367" y="215" width="1" height="1"/><rect x="368" y="214" width="2" height="1"/><rect x="373" y="213" width="1" height="1"/><rect x="374" y="212" width="2" height="1"/><rect x="379" y="211" width="1" height="1"/><rect x="380" y="210" width="2" height="1"/><rect x="385" y="209" width="1" height="1"/><rect x="386" y="208" width="2" height="1"/><rect x="391" y="207" width="1" height="1"/><rect x="392" y="206" width="2" height="1"/><rect x="397" y="205" width="1" height="1"/><rect x="398" y="204" width="2" height="1"/><rect x="403" y="203" width="1" height="1"/><rect x="404" y="202" width="2" height="1"/><rect x="409" y="201" width="1" height="1"/><rect x="410" y="200" width="2" height="1"/><rect x="415" y="199" width="1" height="1"/><rect x="416" y="198" width="2" height="1"/><rect x="421" y="197" width="1" height="1"/><rect x="422" y="196" width="2" height="1"/><rect x="427" y="195" width="1" height="1"/><rect x="428" y="194" width="2" height="1"/><rect x="433" y="193" width="1" height="1"/><rect x="434" y="192" width="2" height="1"/><rect x="439" y="191" width="1" height="1"/><rect x="440" y="190" width="2" height="1"/><rect x="445" y="189" width="1" height="1"/><rect x="446" y="188" width="2" height="1"/><rect x="451" y="187" width="1" height="1"/><rect x="452" y="186" width="2" height="1"/><rect x="457" y="185" width="1" height="1"/><rect x="458" y="184" width="2" height="1"/><rect x="463" y="183" width="1" height="1"/><rect x="464" y="182" width="2" height="1"/><rect x="469" y="181" width="1" height="1"/><rect x="470" y="180" width="2" height="1"/><rect x="475" y="179" width="1" height="1"/><rect x="476" y="178" width="2" height="1"/><rect x="481" y="177" width="1" height="1"/><rect x="482" y="176" width="2" height="1"/><rect x="487" y="175" width="2" height="1"/><rect x="489" y="174" width="1" height="1"/><rect x="493" y="173" width="2" height="1"/><rect x="495" y="172" width="1" height="1"/><rect x="499" y="171" width="2" height="1"/><rect x="501" y="170" width="1" height="1"/><rect x="505" y="169" width="2" height="1"/><rect x="507" y="168" width="1" height="1"/><rect x="511" y="167" width="2" height="1"/><rect x="513" y="166" width="1" height="1"/><rect x="517" y="165" width="2" height="1"/><rect x="519" y="164" width="1" height="1"/><rect x="523" y="163" width="2" height="1"/><rect x="525" y="162" width="1" height="1"/><rect x="529" y="161" width="2" height="1"/><rect x="531" y="160" width="1" height="1"/><rect x="535" y="159" width="2" height="1"/><rect x="537" y="158" width="1" height="1"/><rect x="541" y="157" width="2" height="1"/><rect x="543" y="156" width="1" height="1"/><rect x="547" y="155" width="2" height="1"/><rect x="549" y="154" width="1" height="1"/><rect x="553" y="153" width="2" height="1"/><rect x="555" y="152" width="1" height="1"/><rect x="559" y="151" width="2" height="1"/><rect x="561" y="150" width="1" height="1"/><rect x="565" y="149" width="2" height="1"/><rect x="567" y="148" width="1" height="1"/></g>
</g>
<polyline points="3.50,349.75 5.50,349.40 7.50,348.00 9.50,390.00 11.50,384.00 13.50,384.00 15.50,384.00 17.50,384.00 19.50,389.40 21.50,395.00 23.50,391.90 25.50,391.25 27.50,381.90 29.50,390.60 31.50,389.40 33.50,394.40 35.50,390.00 37.50,388.00 39.50,383.75 41.50,379.75 43.50,387.50 45.50,391.50 47.50,392.50 49.50,406.00 51.50,418.00 53.50,414.40 55.50,413.10 57.50,418.75 59.50,421.90 61.50,412.50 63.50,406.25 65.50,413.75 67.50,418.10 69.50,420.00 71.50,419.40 73.50,416.90 75.50,414.40 77.50,416.90 79.50,413.75 81.50,411.00 83.50,413.75 85.50,407.50 87.50,403.10 89.50,402.50 91.50,396.90 93.50,398.10 95.50,397.50 97.50,393.10 99.50,386.90 101.50,381.90 103.50,377.50 105.50,374.00 107.50,385.60 109.50,385.60 111.50,385.00 113.50,383.50 115.50,388.10 117.50,393.75 119.50,398.10 121.50,398.00 123.50,391.25 125.50,391.90 127.50,381.90 129.50,380.60 131.50,375.00 133.50,370.60 135.50,375.60 137.50,380.60 139.50,386.25 141.50,388.10 143.50,393.75 145.50,400.60 147.50,392.50 149.50,389.75 151.50,387.80 153.50,383.50 155.50,383.75 157.50,387.25 159.50,381.90 161.50,371.90 163.50,367.50 165.50,368.00 167.50,378.00 169.50,378.00 171.50,369.50 173.50,370.50 175.50,373.10 177.50,383.10 179.50,378.10 181.50,376.25 183.50,371.00 185.50,371.90 187.50,372.50 189.50,385.60 191.50,384.40 193.50,383.75 195.50,388.10 197.50,378.10 199.50,377.75 201.50,390.00 203.50,396.90 205.50,403.75 207.50,400.00 209.50,395.00 211.50,391.90 213.50,386.90 215.50,389.00 217.50,390.25 219.50,387.50 221.50,381.90 223.50,379.00 225.50,383.75 227.50,380.60 229.50,379.75 231.50,380.60 233.50,375.00 235.50,389.40 237.50,387.50 239.50,391.25 241.50,384.40 243.50,381.25 245.50,381.90 247.50,391.25 249.50,390.60 251.50,391.50 253.50,391.25 255.50,390.60 257.50,387.50 259.50,390.60 261.50,391.00 263.50,383.10 265.50,377.00 267.50,373.75 269.50,369.75 271.50,365.60 273.50,362.25 275.50,356.25 277.50,352.50 279.50,364.40 281.50,357.50 283.50,352.50 285.50,358.75 287.50,356.25 289.50,360.00 291.50,353.75 293.50,358.75 295.50,359.40 297.50,356.90 299.50,353.50 301.50,370.00 303.50,373.50 305.50,380.00 307.50,376.25 309.50,371.90 311.50,367.50 313.50,360.60 315.50,358.10 317.50,353.10 319.50,353.10 321.50,357.50 323.50,354.40 325.50,351.25 327.50,347.50 329.50,343.50 331.50,340.60 333.50,338.75 335.50,388.50 337.50,390.00 339.50,389.00 341.50,385.60 343.50,388.50 345.50,389.75 347.50,391.50 349.50,395.60 351.50,396.90 353.50,390.60 355.50,381.25 357.50,378.75 359.50,382.50 361.50,384.75 363.50,382.25 365.50,373.75 367.50,375.60 369.50,375.00 371.50,378.75 373.50,384.75 375.50,410.00 377.50,411.70" fill="none" stroke="#000" stroke-width="2" stroke-linejoin="round" shape-rendering="crispEdges"/>
<line x1="45.5" y1="426.6" x2="403.75" y2="369.6" stroke="#2C8CE0" stroke-width="1" stroke-dasharray="2.531 1.519"/>
<g shape-rendering="crispEdges" fill="none" stroke="#000"><rect x="2.5" y="2.5" width="600" height="318"/><rect x="2.5" y="322.5" width="600" height="141"/><line x1="603" y1="30.5" x2="605" y2="30.5"/><line x1="603" y1="62.5" x2="605" y2="62.5"/><line x1="603" y1="94.5" x2="605" y2="94.5"/><line x1="603" y1="126.5" x2="605" y2="126.5"/><line x1="603" y1="158.5" x2="605" y2="158.5"/><line x1="603" y1="190.5" x2="605" y2="190.5"/><line x1="603" y1="222.5" x2="605" y2="222.5"/><line x1="603" y1="254.5" x2="605" y2="254.5"/><line x1="603" y1="286.5" x2="605" y2="286.5"/><line x1="603" y1="318.5" x2="605" y2="318.5"/><line x1="603" y1="158.5" x2="604" y2="158.5"/><line x1="603" y1="324.5" x2="604" y2="324.5"/><line x1="603" y1="462.5" x2="604" y2="462.5"/><line x1="3.5" y1="464" x2="3.5" y2="467"/><line x1="67.5" y1="464" x2="67.5" y2="467"/><line x1="131.5" y1="464" x2="131.5" y2="467"/><line x1="195.5" y1="464" x2="195.5" y2="467"/><line x1="259.5" y1="464" x2="259.5" y2="467"/><line x1="323.5" y1="464" x2="323.5" y2="467"/></g>
<g><text x="7" y="14.0" textLength="71.58" lengthAdjust="spacingAndGlyphs">XAGUSD,Weekly</text><text x="86" y="14.0" textLength="22.95" lengthAdjust="spacingAndGlyphs">30.73</text><text x="112" y="14.0" textLength="22.95" lengthAdjust="spacingAndGlyphs">33.52</text><text x="138" y="14.0" textLength="22.95" lengthAdjust="spacingAndGlyphs">26.04</text><text x="164" y="14.0" textLength="22.95" lengthAdjust="spacingAndGlyphs">30.20</text><text x="608" y="33.0" textLength="22.95" lengthAdjust="spacingAndGlyphs">48.10</text><text x="608" y="65.0" textLength="22.95" lengthAdjust="spacingAndGlyphs">43.60</text><text x="608" y="97.0" textLength="22.95" lengthAdjust="spacingAndGlyphs">39.10</text><text x="608" y="129.0" textLength="22.95" lengthAdjust="spacingAndGlyphs">34.60</text><text x="608" y="193.0" textLength="22.95" lengthAdjust="spacingAndGlyphs">25.60</text><text x="608" y="225.0" textLength="22.95" lengthAdjust="spacingAndGlyphs">21.10</text><text x="608" y="257.0" textLength="22.95" lengthAdjust="spacingAndGlyphs">16.60</text><text x="608" y="289.0" textLength="22.95" lengthAdjust="spacingAndGlyphs">12.10</text><text x="608" y="321.0" textLength="18.57" lengthAdjust="spacingAndGlyphs">7.60</text><rect x="604" y="152" width="31" height="11" fill="#000"/><text x="608" y="161.0" textLength="22.95" lengthAdjust="spacingAndGlyphs" style="fill:#fff;stroke:#fff">30.20</text><text x="8" y="336.0" textLength="67.27" lengthAdjust="spacingAndGlyphs">RSI(13) 36.6585</text><text x="607" y="333.0" textLength="13.56" lengthAdjust="spacingAndGlyphs">100</text><text x="605" y="368.0" textLength="11.12" lengthAdjust="spacingAndGlyphs">70</text><text x="605" y="396.0" textLength="11.12" lengthAdjust="spacingAndGlyphs">50</text><text x="605" y="424.0" textLength="11.12" lengthAdjust="spacingAndGlyphs">30</text><text x="606" y="460.0" textLength="4.75" lengthAdjust="spacingAndGlyphs">0</text><text x="6" y="458.0" textLength="50.5" lengthAdjust="spacingAndGlyphs">RoboForex</text><text x="60" y="458.0" textLength="3.34" lengthAdjust="spacingAndGlyphs">-</text><text x="67" y="458.0" textLength="58.63" lengthAdjust="spacingAndGlyphs">MetaTrader4,</text><text x="128" y="458.0" textLength="7.38" lengthAdjust="spacingAndGlyphs">©</text><text x="140" y="458.0" textLength="44.02" lengthAdjust="spacingAndGlyphs">2001-2011</text><text x="187" y="458.0" textLength="51.4" lengthAdjust="spacingAndGlyphs">MetaQuotes</text><text x="243" y="458.0" textLength="40.51" lengthAdjust="spacingAndGlyphs">Software</text><text x="286" y="458.0" textLength="25.52" lengthAdjust="spacingAndGlyphs">Corp.</text><text x="2" y="476.0" textLength="52.09" lengthAdjust="spacingAndGlyphs">24 Feb 2008</text><text x="66" y="476.0" textLength="45.86" lengthAdjust="spacingAndGlyphs">5 Oct 2008</text><text x="131" y="476.0" textLength="53.77" lengthAdjust="spacingAndGlyphs">17 May 2009</text><text x="194" y="476.0" textLength="52.71" lengthAdjust="spacingAndGlyphs">27 Dec 2009</text><text x="258" y="476.0" textLength="48.63" lengthAdjust="spacingAndGlyphs">8 Aug 2010</text><text x="322" y="476.0" textLength="52.33" lengthAdjust="spacingAndGlyphs">20 Mar 2011</text></g>
</svg></body></html>
